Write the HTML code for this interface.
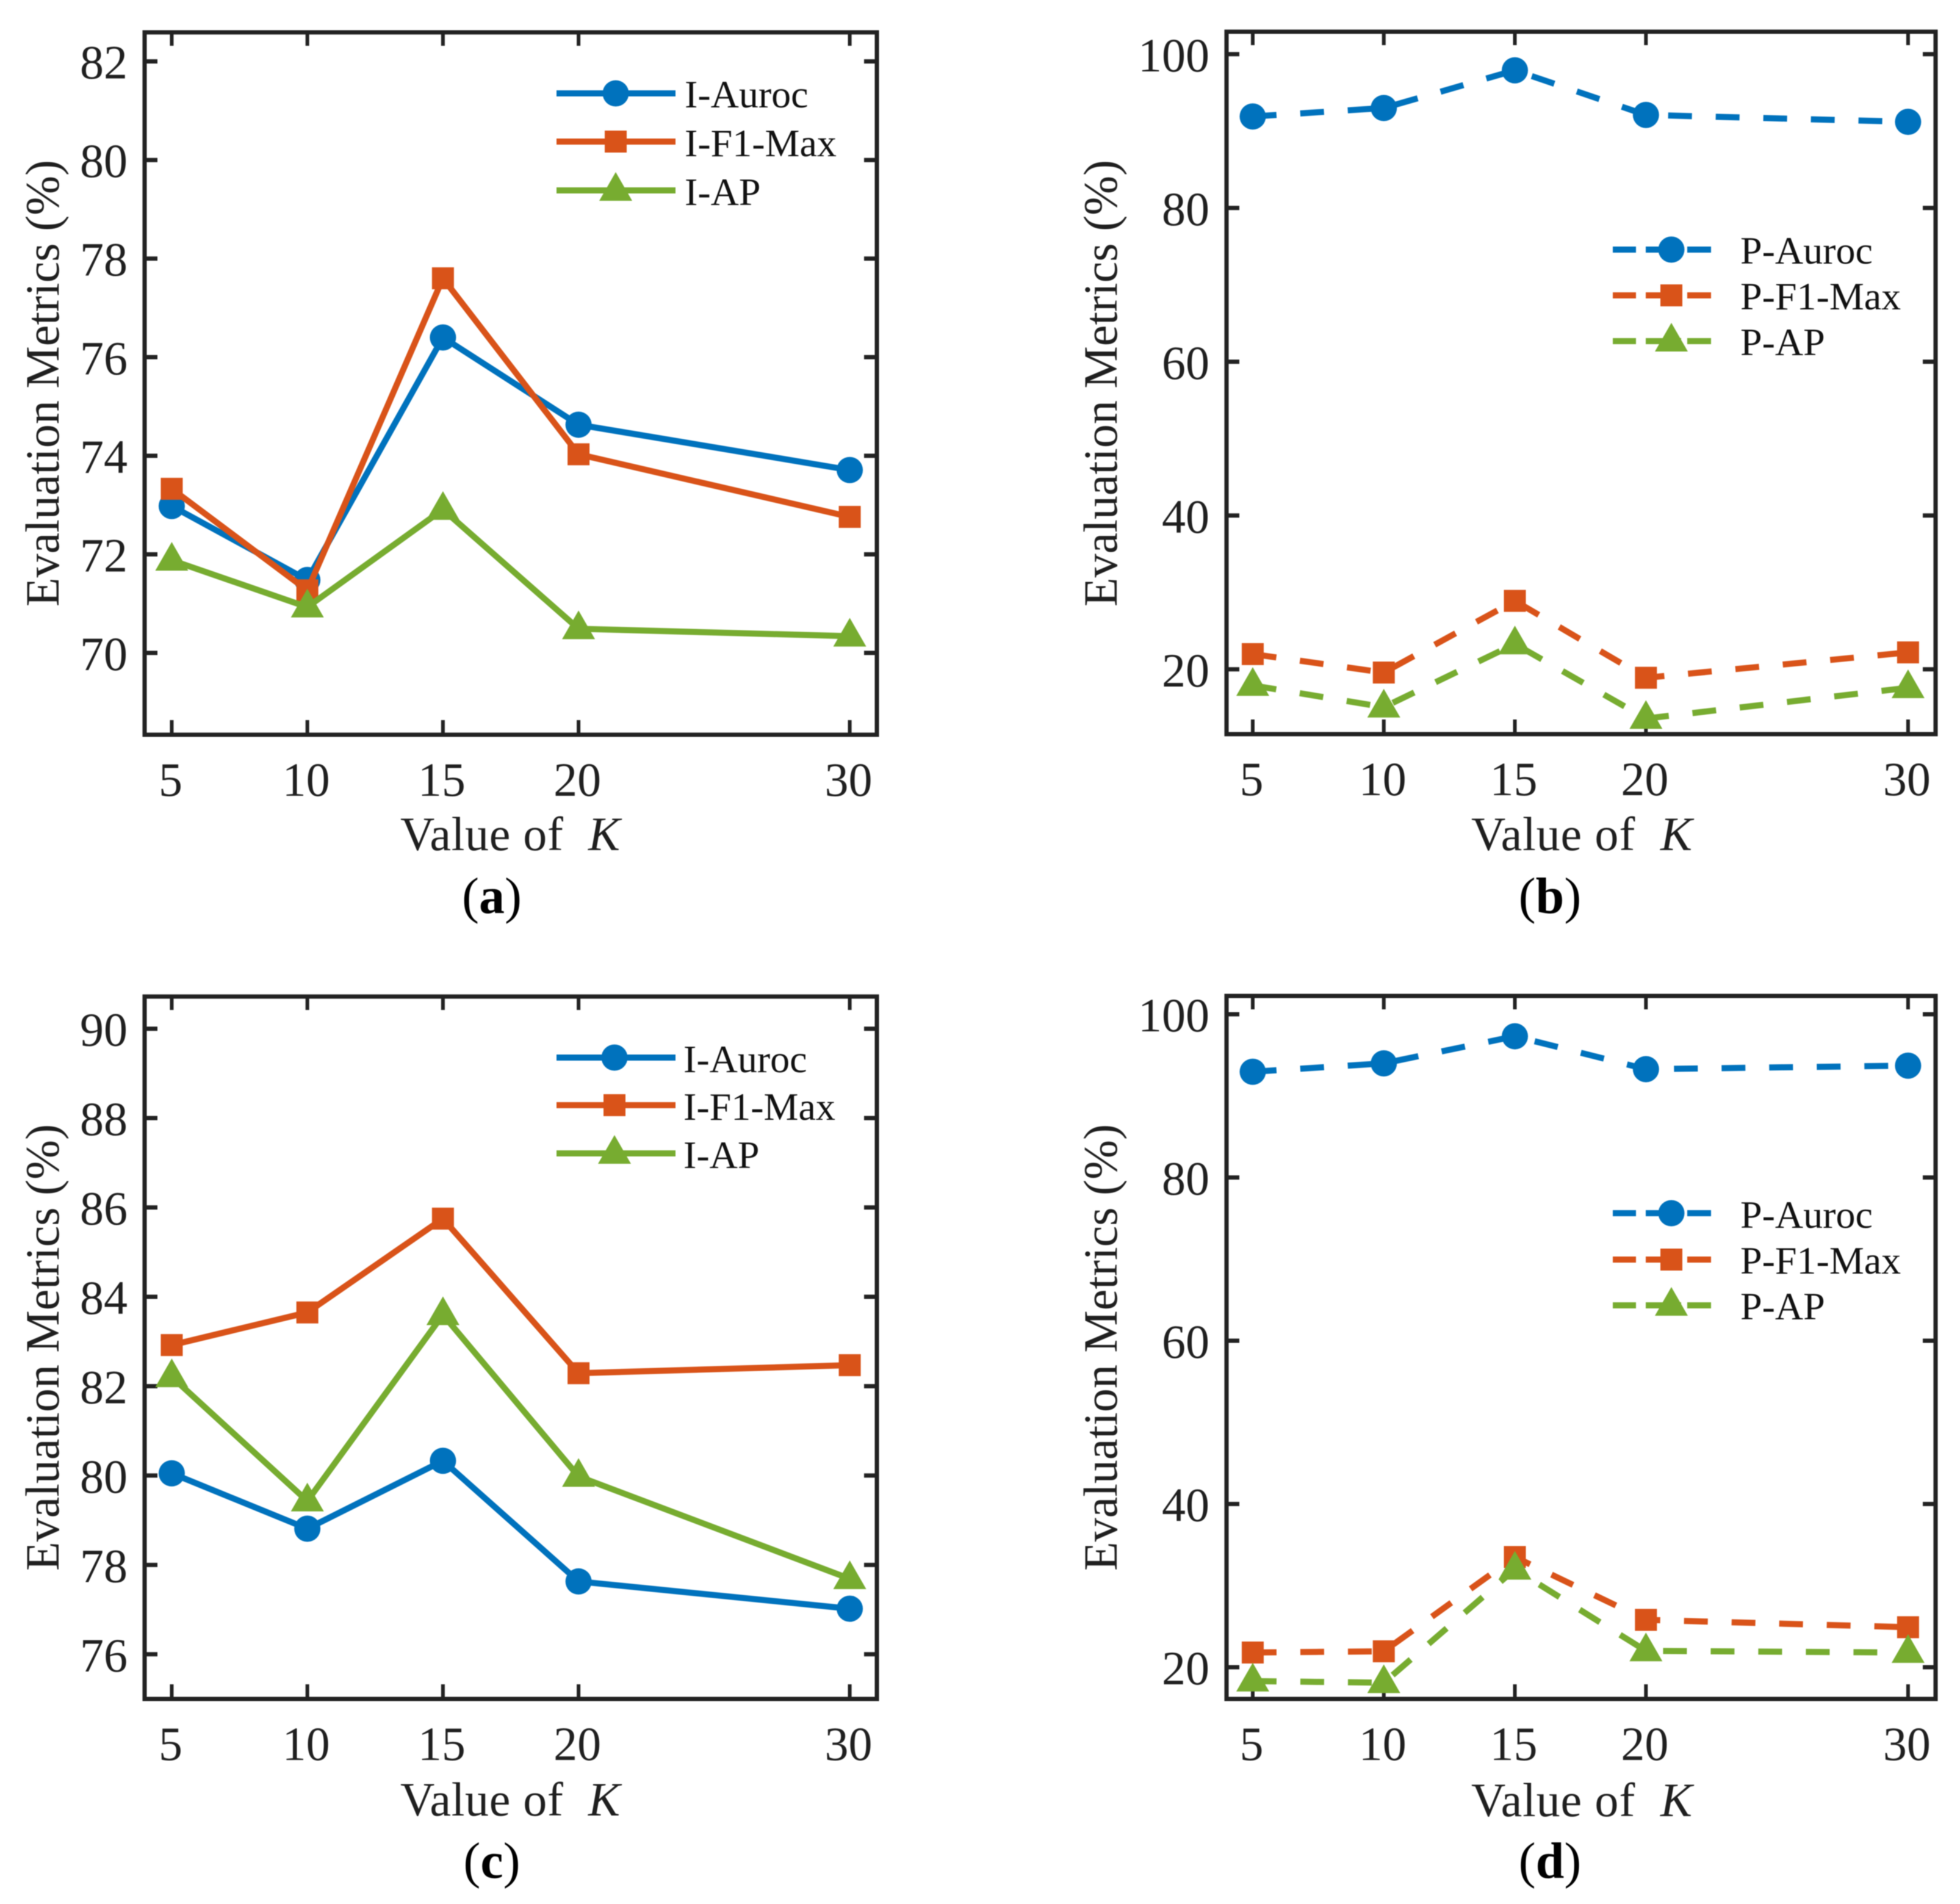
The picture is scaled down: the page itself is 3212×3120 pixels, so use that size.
<!DOCTYPE html>
<html lang="en">
<head>
<meta charset="utf-8">
<title>Evaluation metrics versus value of K</title>
<style>
html,body{margin:0;padding:0;background:#fff;}
svg{display:block;filter:blur(0.7px);}
text{font-family:"Liberation Serif","Times New Roman",serif;fill:#1f1f1f;}
.axis-title{font-size:78px;white-space:pre;}
.tick-label{font-size:78px;}
.legend-label{font-size:64px;fill:#111;}
.caption{font-size:84px;fill:#000;}
.caption tspan{font-weight:bold;}
</style>
</head>
<body>
<svg id="figure" xmlns="http://www.w3.org/2000/svg" width="3212" height="3120" viewBox="0 0 3212 3120">
  <rect x="0" y="0" width="3212" height="3120" fill="#ffffff"/>
  <g id="marks"></g>

  <text class="axis-title" text-anchor="middle" transform="translate(96 628) rotate(-90)">Evaluation Metrics (%)</text>
  <text class="axis-title" text-anchor="middle" transform="translate(1830 628) rotate(-90)">Evaluation Metrics (%)</text>
  <text class="axis-title" text-anchor="middle" transform="translate(96 2208) rotate(-90)">Evaluation Metrics (%)</text>
  <text class="axis-title" text-anchor="middle" transform="translate(1830 2208) rotate(-90)">Evaluation Metrics (%)</text>

  <text class="axis-title" x="656" y="1393" textLength="360">Value of  <tspan font-style="italic">K</tspan></text>
  <text class="axis-title" x="2411" y="1393" textLength="362">Value of  <tspan font-style="italic">K</tspan></text>
  <text class="axis-title" x="656" y="2975" textLength="360">Value of  <tspan font-style="italic">K</tspan></text>
  <text class="axis-title" x="2411" y="2976" textLength="362">Value of  <tspan font-style="italic">K</tspan></text>

  <text class="caption" text-anchor="middle" x="806" y="1496">(<tspan>a</tspan>)</text>
  <text class="caption" text-anchor="middle" x="2540" y="1496">(<tspan>b</tspan>)</text>
  <text class="caption" text-anchor="middle" x="806" y="3077">(<tspan>c</tspan>)</text>
  <text class="caption" text-anchor="middle" x="2540" y="3077">(<tspan>d</tspan>)</text>

  <text class="legend-label" x="1122" y="176">I-Auroc</text>
  <text class="legend-label" x="1122" y="256">I-F1-Max</text>
  <text class="legend-label" x="1122" y="336">I-AP</text>

  <text class="legend-label" x="2852" y="432">P-Auroc</text>
  <text class="legend-label" x="2852" y="507">P-F1-Max</text>
  <text class="legend-label" x="2852" y="582">P-AP</text>

  <text class="legend-label" x="1120" y="1757">I-Auroc</text>
  <text class="legend-label" x="1120" y="1835">I-F1-Max</text>
  <text class="legend-label" x="1120" y="1914">I-AP</text>

  <text class="legend-label" x="2852" y="2012">P-Auroc</text>
  <text class="legend-label" x="2852" y="2087">P-F1-Max</text>
  <text class="legend-label" x="2852" y="2162">P-AP</text>
</svg>

<script>
// Shared categories
const kValues = [5, 10, 15, 20, 30];
const kTickLabels = ["5", "10", "15", "20", "30"];

// Panel (a)
const panelATicks = [70, 72, 74, 76, 78, 80, 82];
const panelAAuroc = [72.98, 71.48, 76.40, 74.63, 73.71];
const panelAF1Max = [73.33, 71.27, 77.60, 74.03, 72.76];
const panelAAp = [71.88, 70.93, 72.91, 70.49, 70.34];

// Panel (b)
const panelBTicks = [20, 40, 60, 80, 100];
const panelBAuroc = [91.9, 93.0, 97.9, 92.1, 91.2];
const panelBF1Max = [21.98, 19.58, 28.9, 18.9, 22.2];
const panelBAp = [17.9, 15.08, 23.3, 13.6, 17.6];

// Panel (c)
const panelCTicks = [76, 78, 80, 82, 84, 86, 88, 90];
const panelCAuroc = [80.05, 78.81, 80.33, 77.63, 77.02];
const panelCF1Max = [82.92, 83.65, 85.75, 82.29, 82.47];
const panelCAp = [82.21, 79.43, 83.6, 79.98, 77.69];

// Panel (d)
const panelDTicks = [20, 40, 60, 80, 100];
const panelDAuroc = [92.95, 93.98, 97.3, 93.27, 93.7];
const panelDF1Max = [21.8, 21.95, 33.5, 25.8, 24.9];
const panelDAp = [18.3, 18.1, 32.0, 22.0, 21.8];

const SVG_NS = "http://www.w3.org/2000/svg";
const INK = "#222222";
const BLUE = "#0072BD";
const ORANGE = "#D95319";
const GREEN = "#77AC30";

const panels = [
  { id: "a", ticks: panelATicks, series: [panelAAuroc, panelAF1Max, panelAAp], dashed: false,
    left: 237, right: 1437, top: 53, bottom: 1204, xMin: 4, xMax: 31, yMin: 68.34, yMax: 82.59,
    labelRight: 209, legend: { x1: 912, x2: 1107, mx: 1009, ys: [153, 232, 312] } },
  { id: "b", ticks: panelBTicks, series: [panelBAuroc, panelBF1Max, panelBAp], dashed: true,
    left: 2010, right: 3172, top: 52, bottom: 1203, xMin: 4, xMax: 31.05, yMin: 11.57, yMax: 102.92,
    labelRight: 1982, legend: { x1: 2643, x2: 2804, mx: 2739, ys: [409, 484, 559] } },
  { id: "c", ticks: panelCTicks, series: [panelCAuroc, panelCF1Max, panelCAp], dashed: false,
    left: 237, right: 1437, top: 1633, bottom: 2784, xMin: 4, xMax: 31, yMin: 75.0, yMax: 90.72,
    labelRight: 209, legend: { x1: 912, x2: 1107, mx: 1007, ys: [1733, 1811, 1890] } },
  { id: "d", ticks: panelDTicks, series: [panelDAuroc, panelDF1Max, panelDAp], dashed: true,
    left: 2010, right: 3172, top: 1632, bottom: 2784, xMin: 4, xMax: 31.05, yMin: 16.11, yMax: 102.24,
    labelRight: 1982, legend: { x1: 2643, x2: 2804, mx: 2739, ys: [1988, 2064, 2139] } }
];

const seriesNames = ["auroc", "f1-max", "ap"];
const seriesColors = [BLUE, ORANGE, GREEN];

function make(tag, attrs, parent) {
  const node = document.createElementNS(SVG_NS, tag);
  for (const key in attrs) node.setAttribute(key, attrs[key]);
  parent.appendChild(node);
  return node;
}

function drawMarker(kind, cx, cy, color, parent) {
  if (kind === 0) {
    return make("circle", { cx: cx, cy: cy, r: 21.5, fill: color }, parent);
  }
  if (kind === 1) {
    return make("rect", { x: cx - 18, y: cy - 18, width: 36, height: 36, fill: color }, parent);
  }
  return make("polygon", {
    points: cx + "," + (cy - 30) + " " + (cx + 27) + "," + (cy + 17) + " " + (cx - 27) + "," + (cy + 17),
    fill: color
  }, parent);
}

const root = document.getElementById("marks");

panels.forEach(function (p) {
  const xScale = function (v) { return p.left + (v - p.xMin) * (p.right - p.left) / (p.xMax - p.xMin); };
  const yScale = function (v) { return p.bottom - (v - p.yMin) * (p.bottom - p.top) / (p.yMax - p.yMin); };

  const group = make("g", {}, root);
  
  

  // y ticks, both sides
  p.ticks.forEach(function (t) {
    const y = yScale(t);
    const tickL = make("line", { x1: p.left, x2: p.left + 21, y1: y, y2: y, stroke: INK, "stroke-width": 7 }, group);
    
    
    const tickR = make("line", { x1: p.right - 21, x2: p.right, y1: y, y2: y, stroke: INK, "stroke-width": 7 }, group);
    
    
    const label = make("text", { x: p.labelRight, y: y + 28, "text-anchor": "end", class: "tick-label" }, group);
    label.textContent = String(t);
    
    
  });

  // x ticks, both sides
  kValues.forEach(function (k, i) {
    const x = xScale(k);
    const tickB = make("line", { x1: x, x2: x, y1: p.bottom - 24, y2: p.bottom, stroke: INK, "stroke-width": 6 }, group);
    
    
    const tickT = make("line", { x1: x, x2: x, y1: p.top, y2: p.top + 22, stroke: INK, "stroke-width": 6 }, group);
    
    
    const label = make("text", { x: x - 2, y: p.bottom + 100, "text-anchor": "middle", class: "tick-label" }, group);
    label.textContent = kTickLabels[i];
    
    
  });

  // series
  p.series.forEach(function (values, s) {
    const seriesGroup = make("g", {}, group);
    
    
    const pts = values.map(function (v, i) { return xScale(kValues[i]) + "," + yScale(v); }).join(" ");
    const line = make("polyline", {
      points: pts, fill: "none", stroke: seriesColors[s], "stroke-width": 10,
      "stroke-linejoin": "miter"
    }, seriesGroup);
    if (p.dashed) line.setAttribute("stroke-dasharray", "39 39");
    
    
    values.forEach(function (v, i) {
      const mark = drawMarker(s, xScale(kValues[i]), yScale(v), seriesColors[s], seriesGroup);
      
      
    });
  });

  // frame
  const frame = make("rect", {
    x: p.left, y: p.top, width: p.right - p.left, height: p.bottom - p.top,
    fill: "none", stroke: INK, "stroke-width": 7
  }, group);
  
  

  // legend swatches
  p.legend.ys.forEach(function (y, s) {
    const swatch = make("g", {}, group);
    
    
    const line = make("line", {
      x1: p.legend.x1, x2: p.legend.x2, y1: y, y2: y,
      stroke: seriesColors[s], "stroke-width": 10
    }, swatch);
    if (p.dashed) line.setAttribute("stroke-dasharray", "38 16 58 10 39");
    
    
    const mark = drawMarker(s, p.legend.mx, y, seriesColors[s], swatch);
    
    
  });
});
</script>
</body>
</html>
